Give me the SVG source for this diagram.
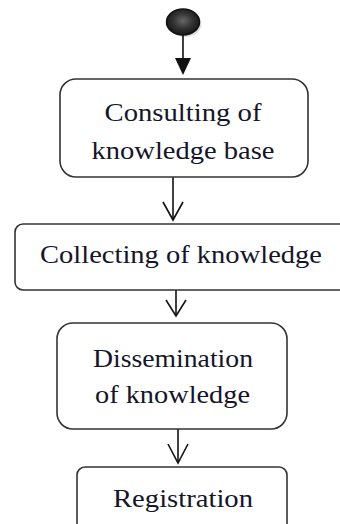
<svg xmlns="http://www.w3.org/2000/svg" width="340" height="524" viewBox="0 0 340 524">
<style>
.box{fill:#fff;stroke:#333;stroke-width:1.6}
text{font-family:"Liberation Serif",serif;font-size:26px;fill:#15152a;text-anchor:middle}
.c{stroke:#111;stroke-width:1.6;fill:none}
</style>
<defs>
<radialGradient id="g" cx="0.5" cy="0.45" r="0.6">
<stop offset="0" stop-color="#666"/>
<stop offset="0.5" stop-color="#333"/>
<stop offset="1" stop-color="#111"/>
</radialGradient>
</defs>
<rect width="340" height="524" fill="#fff"/>
<g id="start">
<ellipse cx="185" cy="24" rx="16.5" ry="13" fill="#bbb" opacity="0.5"/>
<ellipse cx="183" cy="22" rx="16.5" ry="13" fill="url(#g)" stroke="#111" stroke-width="1.5"/>
</g>
<g id="connectors">
<line class="c" x1="183" y1="35" x2="183" y2="60"/>
<polygon points="175,58 191,58 183,75" fill="#111"/>
<line class="c" x1="173" y1="177" x2="173" y2="220"/>
<polyline class="c" points="163,202 173,220 183,202"/>
<line class="c" x1="176" y1="290" x2="176" y2="316"/>
<polyline class="c" points="166,300 176,316 186,300"/>
<line class="c" x1="178" y1="429" x2="178" y2="463"/>
<polyline class="c" points="168,444 178,463 188,444"/>
</g>
<g id="consulting">
<rect class="box" x="60" y="79" width="248" height="98" rx="16"/>
<text font-family="Liberation Serif, serif" x="183" y="121" textLength="157" lengthAdjust="spacingAndGlyphs">Consulting of</text>
<text font-family="Liberation Serif, serif" x="183" y="159" textLength="183" lengthAdjust="spacingAndGlyphs">knowledge base</text>
</g>
<g id="collecting">
<rect class="box" x="15" y="224" width="340" height="66" rx="8"/>
<text font-family="Liberation Serif, serif" x="181" y="263" textLength="282" lengthAdjust="spacingAndGlyphs">Collecting of knowledge</text>
</g>
<g id="dissemination">
<rect class="box" x="57" y="323" width="230" height="106" rx="16"/>
<text font-family="Liberation Serif, serif" x="173" y="367" textLength="160" lengthAdjust="spacingAndGlyphs">Dissemination</text>
<text font-family="Liberation Serif, serif" x="172.5" y="403" textLength="155" lengthAdjust="spacingAndGlyphs">of knowledge</text>
</g>
<g id="registration">
<rect class="box" x="77" y="467" width="210" height="70" rx="8"/>
<text font-family="Liberation Serif, serif" x="183" y="507" textLength="140" lengthAdjust="spacingAndGlyphs">Registration</text>
</g>
</svg>
